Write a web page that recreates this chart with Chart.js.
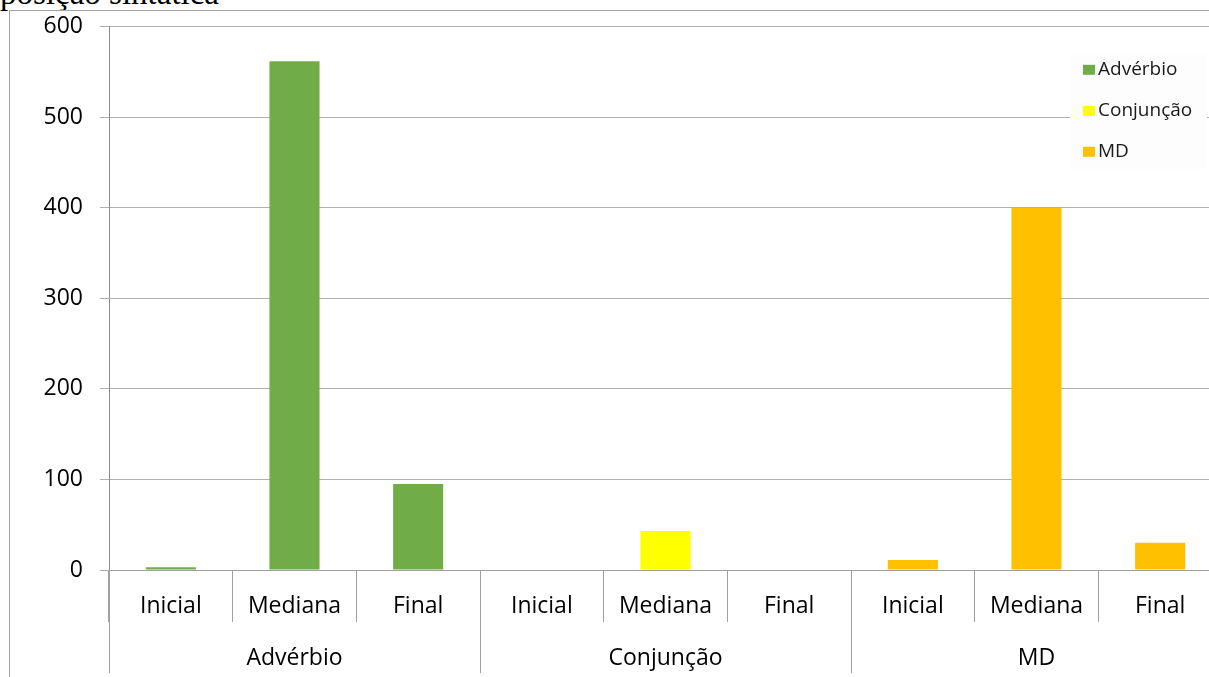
<!DOCTYPE html>
<html>
<head>
<meta charset="utf-8">
<script src="https://cdn.jsdelivr.net/npm/chart.js@4/dist/chart.umd.min.js"></script>
<style>
  html, body { margin: 0; padding: 0; background: #fff; overflow: hidden; }
  #caption {
    position: absolute; left: 0; top: -23px;
    font: 33px/33px "Liberation Serif", serif; color: #000; white-space: nowrap;
  }
  #frame {
    position: absolute; left: 9px; top: 10px; width: 1300px; height: 700px;
    border-left: 1px solid #a6a6a6; border-top: 1px solid #a6a6a6;
  }
  #chart { position: absolute; left: 0; top: -15px; }
</style>
</head>
<body>
<div id="caption">posição sintática</div>
<div id="frame"><canvas id="chart" width="1230" height="681"></canvas></div>
<script>
// word classes and their positions in the sentence
const groups = ['Advérbio', 'Conjunção', 'MD'];
const positions = ['Inicial', 'Mediana', 'Final'];

// counts per position (Inicial, Mediana, Final)
const adverbio = [3, 562, 95];
const conjuncao = [0, 43, 0];
const md = [11, 400, 30];

const groupValues = [adverbio, conjuncao, md];
const colors = ['#70ad47', '#ffff00', '#ffc000'];

const yTicks = [0, 100, 200, 300, 400, 500, 600];

const FONT = '"Open Sans", sans-serif';

// one label per bar, groups laid side by side
const labels = groups.flatMap(() => positions);

// each dataset only fills its own group's slots
const datasets = groups.map((g, gi) => ({
    label: g,
    backgroundColor: colors[gi],
    borderWidth: 0,
    data: labels.map((_, i) => Math.floor(i / positions.length) === gi ? groupValues[gi][i % positions.length] : null),
}));

// second row of the category axis: group names and long separators
const groupAxis = {
    id: 'groupAxis',
    afterDraw(chart) {
        const ctx = chart.ctx;
        const x = chart.scales.x;
        const area = chart.chartArea;
        const slot = x.getPixelForValue(1) - x.getPixelForValue(0);
        ctx.save();
        ctx.strokeStyle = '#a0a0a0';
        ctx.lineWidth = 1;
        for (let g = 0; g <= groups.length; g++) {
            const px = Math.round(x.getPixelForValue(g * positions.length) - slot / 2) + 0.5;
            ctx.beginPath();
            ctx.moveTo(px, area.bottom);
            ctx.lineTo(px, area.bottom + 103);
            ctx.stroke();
        }
        ctx.fillStyle = '#000';
        ctx.font = '23px ' + FONT;
        ctx.textAlign = 'center';
        ctx.textBaseline = 'middle';
        groups.forEach((g, gi) => {
            ctx.fillText(g, x.getPixelForValue(gi * positions.length + 1), area.bottom + 88);
        });
        ctx.restore();
    }
};

// legend box sitting inside the plot, top right
const boxLegend = {
    id: 'boxLegend',
    afterDraw(chart) {
        const ctx = chart.ctx;
        const top = chart.chartArea.top;
        ctx.save();
        ctx.fillStyle = '#fdfdfd';
        ctx.fillRect(1060, top + 27, 137, 115);
        ctx.font = '19px ' + FONT;
        ctx.textBaseline = 'middle';
        ctx.textAlign = 'left';
        chart.data.datasets.forEach((ds, i) => {
            const cy = top + 43 + i * 41;
            ctx.fillStyle = ds.backgroundColor;
            ctx.fillRect(1073, cy - 5, 12, 10);
            ctx.fillStyle = '#1a1a1a';
            ctx.fillText(ds.label, 1088, cy);
        });
        ctx.restore();
    }
};

new Chart(document.getElementById('chart'), {
    type: 'bar',
    data: { labels, datasets },
    plugins: [groupAxis, boxLegend],
    options: {
        responsive: false,
        animation: false,
        layout: { padding: { top: 0, right: 18, left: 0, bottom: 0 } },
        plugins: {
            legend: { display: false },
            tooltip: { enabled: false },
        },
        datasets: {
            bar: { categoryPercentage: 1, barPercentage: 0.405 }
        },
        scales: {
            x: {
                stacked: true,
                afterFit: s => { s.height = 107; },
                grid: { drawOnChartArea: false, offset: true, tickLength: 52, color: '#a0a0a0' },
                border: { display: true, color: '#a0a0a0' },
                ticks: { color: '#000', font: { family: FONT, size: 23 }, padding: -29, maxRotation: 0, autoSkip: false },
            },
            y: {
                min: 0,
                max: 600,
                afterFit: s => { s.width = 99; },
                afterBuildTicks: s => { s.ticks = yTicks.map(v => ({ value: v })); },
                grid: { color: '#b0b0b0', tickLength: 9 },
                border: { display: true, color: '#8c8c8c' },
                ticks: { color: '#000', font: { family: FONT, size: 23 }, padding: 17 },
            }
        }
    }
});
</script>
</body>
</html>
